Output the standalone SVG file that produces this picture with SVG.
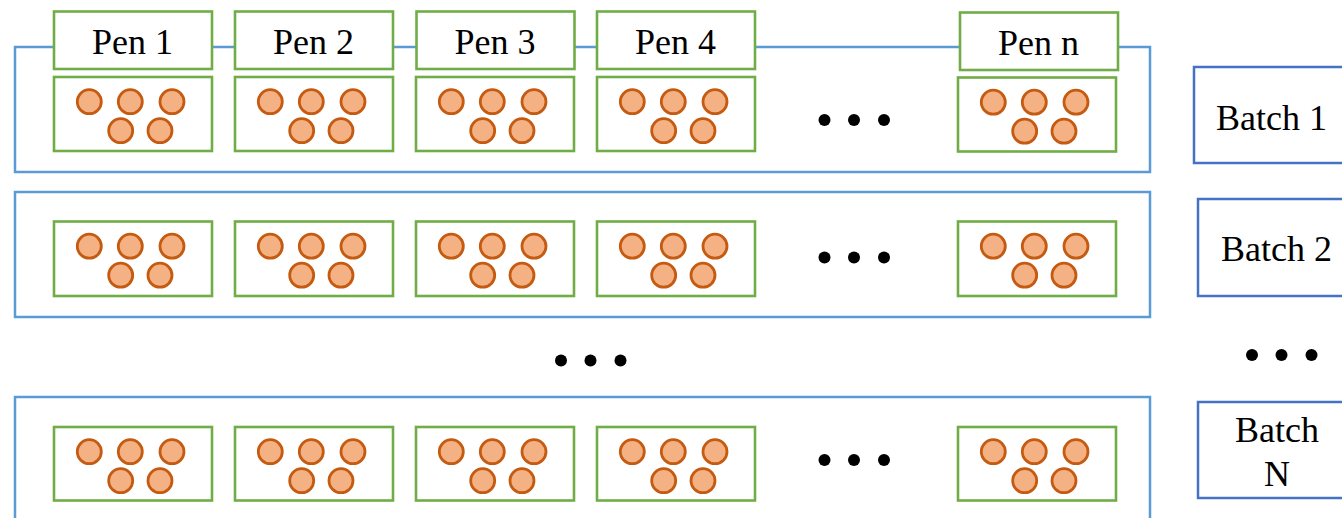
<svg xmlns="http://www.w3.org/2000/svg" width="1342" height="518" viewBox="0 0 1342 518">
<style>
.batchbox{fill:none;stroke:#5B9BD5;stroke-width:2.5}
.label{fill:none;stroke:#4472C4;stroke-width:2.5}
.pen{fill:#fff;stroke:#70AD47;stroke-width:2.6}
.pig{fill:#F4B183;stroke:#C55A11;stroke-width:2.8}
.dot{fill:#000}
.t{font-family:'Liberation Serif','Times New Roman',serif;font-size:36px;fill:#000;text-anchor:middle}
</style>
<defs>
<g id="pigs">
<circle class="pig" cx="35.3" cy="24.7" r="12"/>
<circle class="pig" cx="76.3" cy="24.7" r="12"/>
<circle class="pig" cx="118" cy="24.7" r="12"/>
<circle class="pig" cx="66.7" cy="53.7" r="12"/>
<circle class="pig" cx="106" cy="53.7" r="12"/>
</g>
<g id="dots3">
<circle class="dot" cx="0" cy="0" r="6"/>
<circle class="dot" cx="29.5" cy="0" r="6"/>
<circle class="dot" cx="59.5" cy="0" r="6"/>
</g>
</defs>

<g id="connectors">
<rect id="batch1-frame" class="batchbox" x="15" y="47" width="1135" height="125"/>
<rect id="batch2-frame" class="batchbox" x="15" y="192" width="1135" height="125"/>
<rect id="batchN-frame" class="batchbox" x="15" y="397" width="1135" height="140"/>
</g>

<g id="pen-labels" font-family="Liberation Serif, Times New Roman, serif" font-size="36" text-anchor="middle">
<g id="pen1"><rect class="pen" x="54" y="11.5" width="158" height="57.5"/><text class="t" x="132.5" y="54">Pen 1</text></g>
<g id="pen2"><rect class="pen" x="235" y="11.5" width="158" height="57.5"/><text class="t" x="313.5" y="54">Pen 2</text></g>
<g id="pen3"><rect class="pen" x="416.5" y="11.5" width="158" height="57.5"/><text class="t" x="495" y="54">Pen 3</text></g>
<g id="pen4"><rect class="pen" x="597" y="11.5" width="158" height="57.5"/><text class="t" x="675.5" y="54">Pen 4</text></g>
<g id="penn"><rect class="pen" x="960" y="12.5" width="158" height="57.5"/><text class="t" x="1038.5" y="55">Pen n</text></g>
</g>

<g id="row1">
<g id="r1p1"><rect class="pen" x="54" y="77" width="158" height="74"/><use href="#pigs" x="54" y="77"/></g>
<g id="r1p2"><rect class="pen" x="235" y="77" width="158" height="74"/><use href="#pigs" x="235" y="77"/></g>
<g id="r1p3"><rect class="pen" x="416" y="77" width="158" height="74"/><use href="#pigs" x="416" y="77"/></g>
<g id="r1p4"><rect class="pen" x="597" y="77" width="158" height="74"/><use href="#pigs" x="597" y="77"/></g>
<use href="#dots3" x="824.5" y="120"/>
<g id="r1pn"><rect class="pen" x="958" y="77.5" width="158" height="74"/><use href="#pigs" x="958" y="77.5"/></g>
</g>

<g id="row2">
<g id="r2p1"><rect class="pen" x="54" y="221.5" width="158" height="74.5"/><use href="#pigs" x="54" y="221.5"/></g>
<g id="r2p2"><rect class="pen" x="235" y="221.5" width="158" height="74.5"/><use href="#pigs" x="235" y="221.5"/></g>
<g id="r2p3"><rect class="pen" x="416" y="221.5" width="158" height="74.5"/><use href="#pigs" x="416" y="221.5"/></g>
<g id="r2p4"><rect class="pen" x="597" y="221.5" width="158" height="74.5"/><use href="#pigs" x="597" y="221.5"/></g>
<use href="#dots3" x="824.5" y="257.5"/>
<g id="r2pn"><rect class="pen" x="958" y="221.5" width="158" height="74.5"/><use href="#pigs" x="958" y="221.5"/></g>
</g>

<use id="mid-dots" href="#dots3" x="561" y="360.5"/>

<g id="row3">
<g id="r3p1"><rect class="pen" x="54" y="427" width="158" height="73.5"/><use href="#pigs" x="54" y="427"/></g>
<g id="r3p2"><rect class="pen" x="235" y="427" width="158" height="73.5"/><use href="#pigs" x="235" y="427"/></g>
<g id="r3p3"><rect class="pen" x="416" y="427" width="158" height="73.5"/><use href="#pigs" x="416" y="427"/></g>
<g id="r3p4"><rect class="pen" x="597" y="427" width="158" height="73.5"/><use href="#pigs" x="597" y="427"/></g>
<use href="#dots3" x="824.5" y="460"/>
<g id="r3pn"><rect class="pen" x="958" y="427" width="158" height="73.5"/><use href="#pigs" x="958" y="427"/></g>
</g>

<g id="batches" font-family="Liberation Serif, Times New Roman, serif" font-size="36" text-anchor="middle">
<g id="batch1"><rect class="label" x="1194" y="67" width="160" height="96"/><text class="t" x="1271.5" y="130">Batch 1</text></g>
<g id="batch2"><rect class="label" x="1198" y="199" width="160" height="97"/><text class="t" x="1276.5" y="261">Batch 2</text></g>
<use id="right-dots" href="#dots3" x="1252" y="355"/>
<g id="batchN"><rect class="label" x="1198" y="402" width="160" height="96"/><text class="t" x="1277" y="442">Batch</text><text class="t" x="1277" y="486">N</text></g>
</g>
</svg>
